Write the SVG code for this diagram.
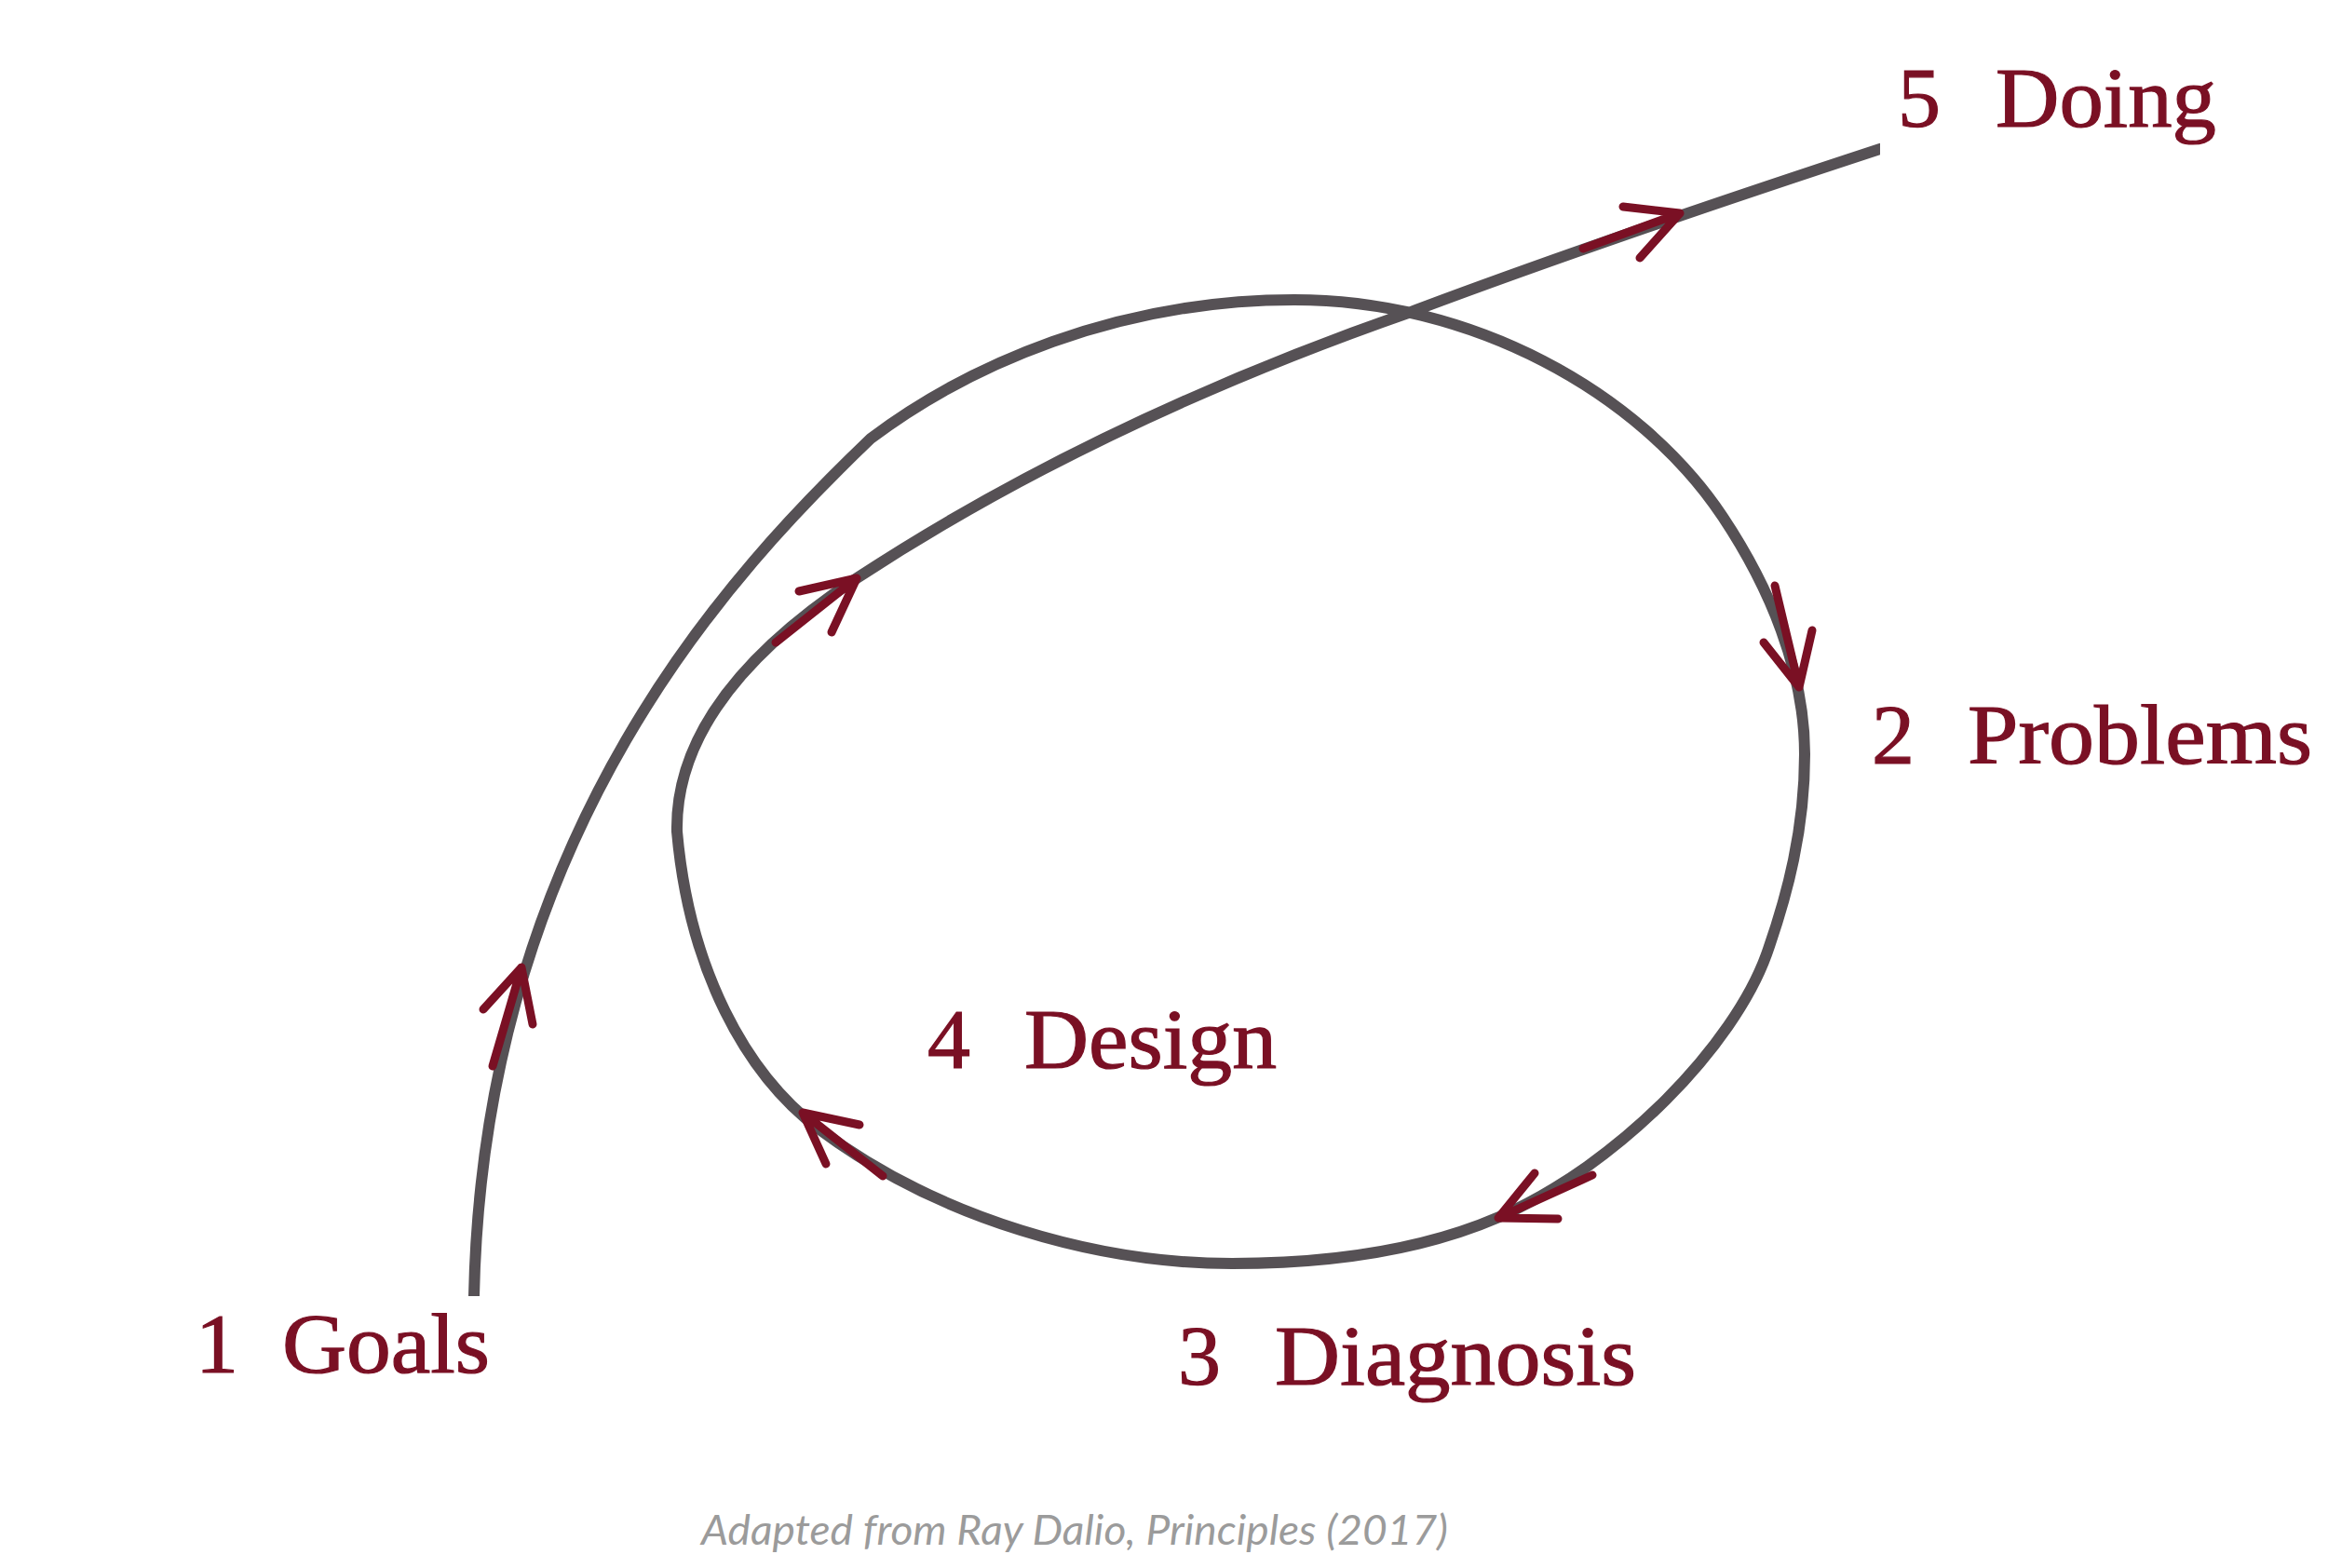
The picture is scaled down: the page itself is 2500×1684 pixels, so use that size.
<svg xmlns="http://www.w3.org/2000/svg" width="2500" height="1684" viewBox="0 0 2500 1684">
<style>
.loop{fill:none;stroke:#565155;stroke-width:12;stroke-linejoin:round;stroke-linecap:butt}
.arr{fill:none;stroke:#7a1024;stroke-width:9;stroke-linecap:round;stroke-linejoin:round}
.lbl{font-family:"Liberation Serif","Times New Roman",serif;font-size:92px;fill:#7a1024;stroke:#7a1024;stroke-width:1.2}
.note{font-family:Lato,"Open Sans",sans-serif;font-style:italic;font-size:45px;fill:#9b9b9b}
</style>
<defs>
<clipPath id="clip"><rect x="0" y="0" width="2019" height="1392"/></clipPath>
</defs>
<rect width="2500" height="1684" fill="#ffffff"/>
<g id="connectors">
<path class="loop" clip-path="url(#clip)" d="M509,1420 L509,1392 C519,892 791,609 935,471 C1040,392 1200,322 1390,322 C1580,322 1760,420 1850,555 C1900,630 1938,720 1938,810 C1938,890 1920,960 1897,1025 C1862,1122 1740,1250 1610,1307 C1520,1346 1420,1357 1323,1357 C1180,1357 1010,1310 880,1213 C800,1153 740,1040 727,893 C725,790 800,700 920,621 C1100,503 1300,410 1515,335 C1640,288 1830,222 2019,160 L2040,153"/>
<path class="arr" d="M519,1084 L560,1039 L572,1100 M560,1039 L529,1145"/>
<path class="arr" d="M1894,690 L1932,738 L1946,677 M1932,738 L1906,629"/>
<path class="arr" d="M1648,1260 L1609,1308 L1673,1309 M1609,1308 L1710,1262"/>
<path class="arr" d="M923,1208 L862,1195 L887,1250 M862,1195 L948,1263"/>
<path class="arr" d="M858,635 L920,621 L893,679 M920,621 L833,690"/>
<path class="arr" d="M1743,222 L1804,229 L1761,277 M1804,229 L1700,267"/>
</g>
<g id="node-goals">
<text class="lbl" x="210" y="1474">1</text>
<text class="lbl" x="303" y="1474" textLength="223" lengthAdjust="spacingAndGlyphs">Goals</text>
</g>
<g id="node-problems">
<text class="lbl" x="2010" y="820">2</text>
<text class="lbl" x="2113" y="820" textLength="370" lengthAdjust="spacingAndGlyphs">Problems</text>
</g>
<g id="node-diagnosis">
<text class="lbl" x="1265" y="1487">3</text>
<text class="lbl" x="1369" y="1487" textLength="388" lengthAdjust="spacingAndGlyphs">Diagnosis</text>
</g>
<g id="node-design">
<text class="lbl" x="996" y="1147">4</text>
<text class="lbl" x="1100" y="1147" textLength="271" lengthAdjust="spacingAndGlyphs">Design</text>
</g>
<g id="node-doing">
<text class="lbl" x="2038" y="136">5</text>
<text class="lbl" x="2143" y="136" textLength="237" lengthAdjust="spacingAndGlyphs">Doing</text>
</g>
<g id="caption">
<text class="note" x="753" y="1659" textLength="802" lengthAdjust="spacingAndGlyphs">Adapted from Ray Dalio, Principles (2017)</text>
</g>
</svg>
